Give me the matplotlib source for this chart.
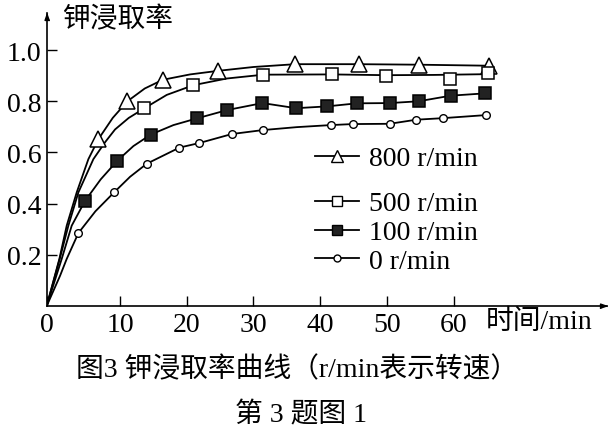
import matplotlib.pyplot as plt
from matplotlib.lines import Line2D

plt.rcParams['font.family'] = ['Liberation Serif', 'Noto Sans CJK SC']
plt.rcParams['font.size'] = 20

# ------ data (time in min, leaching rate) ------
# measured points
t_800 = [6.75, 11.1, 16.4, 24.7, 36.25, 45.75, 54.75, 65.25]
r_800 = [0.652, 0.800, 0.884, 0.919, 0.945, 0.945, 0.943, 0.939]

t_500 = [13.6, 21.0, 31.5, 41.8, 49.9, 59.5, 65.1]
r_500 = [0.772, 0.863, 0.904, 0.905, 0.900, 0.887, 0.910]

t_100 = [4.75, 9.6, 14.6, 21.5, 26.1, 31.35, 36.4, 41.0, 45.5, 50.4, 54.75, 59.6, 64.75]
r_100 = [0.411, 0.568, 0.670, 0.733, 0.766, 0.793, 0.773, 0.780, 0.792, 0.793, 0.800, 0.822, 0.831]

t_0 = [3.75, 9.1, 14.0, 18.9, 21.9, 26.75, 31.4, 41.6, 44.9, 50.4, 54.4, 58.35, 64.85]
r_0 = [0.285, 0.444, 0.556, 0.619, 0.637, 0.672, 0.6875, 0.707, 0.711, 0.712, 0.728, 0.734, 0.746]

# drawn curves (starting at the origin of the axes)
ct_800 = [-1, 0.9, 2.0, 3.5, 5.25, 6.75, 8.9, 11.1, 13.7, 16.4, 20.5, 24.7, 30.0, 36.25, 45.75, 54.75, 65.25]
cr_800 = [0, 0.184, 0.314, 0.444, 0.574, 0.652, 0.735, 0.800, 0.850, 0.884, 0.905, 0.919, 0.934, 0.945, 0.945, 0.943, 0.939]

ct_500 = [-1, 0.95, 2.25, 3.75, 6.0, 7.75, 9.25, 11.3, 13.6, 17.0, 21.0, 26.0, 31.5, 41.8, 49.9, 57.0, 65.1]
cr_500 = [0, 0.184, 0.314, 0.444, 0.574, 0.640, 0.690, 0.735, 0.772, 0.825, 0.863, 0.889, 0.904, 0.905, 0.902, 0.903, 0.906]

ct_100 = [-1, 1.25, 2.75, 4.75, 7.1, 9.6, 12.0, 14.6, 18.0, 21.5, 26.1, 31.35, 36.4, 41.0, 45.5, 50.4, 54.75, 59.6, 64.75]
cr_100 = [0, 0.184, 0.314, 0.411, 0.495, 0.568, 0.625, 0.670, 0.707, 0.733, 0.766, 0.793, 0.773, 0.780, 0.792, 0.793, 0.800, 0.822, 0.831]

ct_0 = [-1, 1.0, 2.0, 3.75, 6.3, 9.1, 11.5, 14.0, 18.9, 21.9, 26.75, 31.4, 36.5, 41.6, 44.9, 50.4, 54.4, 58.35, 64.85]
cr_0 = [0, 0.118, 0.184, 0.285, 0.370, 0.444, 0.505, 0.556, 0.619, 0.637, 0.672, 0.6875, 0.699, 0.707, 0.711, 0.712, 0.728, 0.734, 0.746]

labels = ['800 r/min', '500 r/min', '100 r/min', '0 r/min']
x_ticks = [-1, 10, 20, 30, 40, 50, 60]
x_ticklabels = ['0', '10', '20', '30', '40', '50', '60']
y_ticks = [0.2, 0.4, 0.6, 0.8, 1.0]
y_ticklabels = ['0.2', '0.4', '0.6', '0.8', '1.0']

W, H = 610, 435
fig = plt.figure(figsize=(W / 100, H / 100), dpi=100)
ax = fig.add_axes([46.7 / W, 1 - 307 / H, 560.3 / W, 293 / H])
ax.set_xlim(-1, 83)
ax.set_ylim(0, 1.145)

lw = 1.3
ax.plot(ct_800, cr_800, color='k', lw=lw)
ax.plot(ct_500, cr_500, color='k', lw=lw)
ax.plot(ct_100, cr_100, color='k', lw=lw)
ax.plot(ct_0, cr_0, color='k', lw=lw)

ax.plot(t_800, r_800, ls='none', marker='^', ms=11, mfc='white', mec='k', mew=1.1)
ax.plot(t_500, r_500, ls='none', marker='s', ms=8.5, mfc='white', mec='k', mew=1.1)
ax.plot(t_100, r_100, ls='none', marker='s', ms=8.5, mfc='#222222', mec='k', mew=1.1)
ax.plot(t_0, r_0, ls='none', marker='o', ms=5.5, mfc='white', mec='k', mew=1.0)

# axes with arrows
for s in ['top', 'right']:
    ax.spines[s].set_visible(False)
for s in ['left', 'bottom']:
    ax.spines[s].set_linewidth(1.2)
ax.plot(1, 0, marker=[(0, 0), (-1, 0.35), (-1, -0.35)], ms=10, color='k',
        transform=ax.transAxes, clip_on=False)
ax.plot(0, 1, marker=[(0, 0), (-0.35, -1), (0.35, -1)], ms=10, color='k',
        transform=ax.transAxes, clip_on=False)

ax.set_xticks(x_ticks, x_ticklabels)
ax.set_yticks(y_ticks, y_ticklabels)
ax.tick_params(direction='in', length=7, width=1.0, pad=4)

# legend
h800 = Line2D([], [], color='k', lw=lw, marker='^', ms=9, mfc='white', mec='k')
h500 = Line2D([], [], color='k', lw=lw, marker='s', ms=7, mfc='white', mec='k')
h100 = Line2D([], [], color='k', lw=lw, marker='s', ms=7, mfc='#222222', mec='k')
h0 = Line2D([], [], color='k', lw=lw, marker='o', ms=5, mfc='white', mec='k')

leg1 = ax.legend([h800], labels[:1], loc='upper left', bbox_to_anchor=(315 / W, 1 - 147 / H),
                 bbox_transform=fig.transFigure, frameon=False, borderpad=0, borderaxespad=0,
                 handlelength=1.6, handletextpad=0.35)
ax.add_artist(leg1)
ax.legend([h500, h100, h0], labels[1:], loc='upper left', bbox_to_anchor=(315 / W, 1 - 192 / H),
          bbox_transform=fig.transFigure, frameon=False, borderpad=0, borderaxespad=0,
          handlelength=1.6, handletextpad=0.35, labelspacing=0.12)

# axis titles and captions
fig.text(62 / W, 1 - 20 / H, '钾浸取率', ha='left', va='center')
fig.text(486 / W, 1 - 322 / H, '时间/min', ha='left', va='center')
fig.text(297 / W, 1 - 370 / H, '图3 钾浸取率曲线（r/min表示转速）', ha='center', va='center')
fig.text(301 / W, 1 - 415 / H, '第 3 题图 1', ha='center', va='center')

fig.savefig('out.png', dpi=100)
